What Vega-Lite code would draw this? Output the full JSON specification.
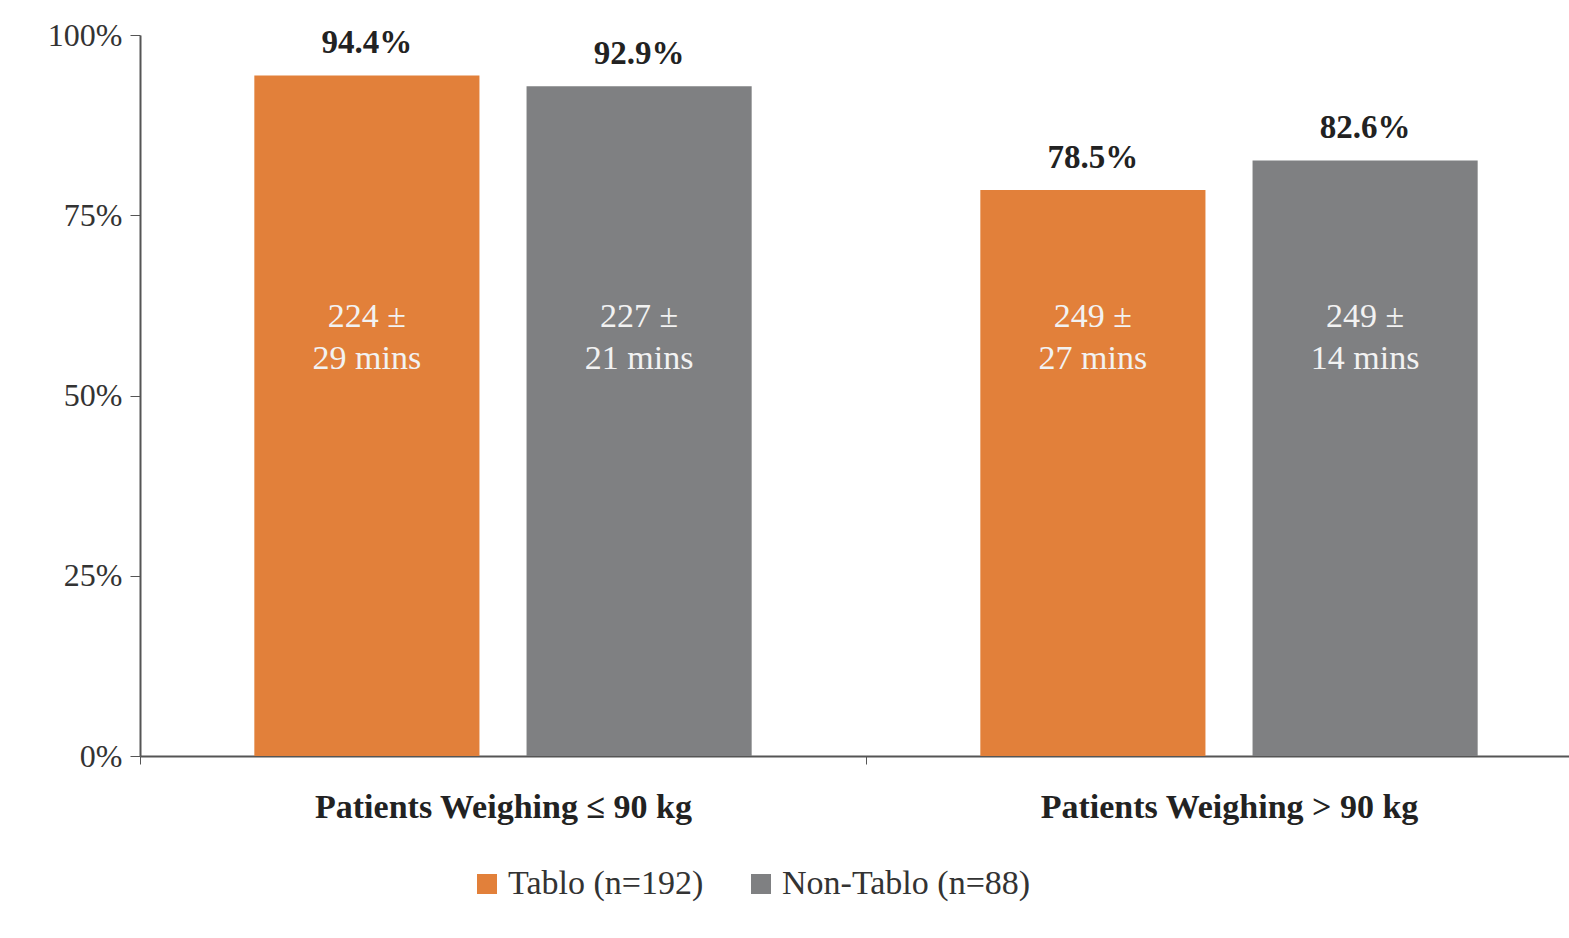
{
  "$schema": "https://vega.github.io/schema/vega-lite/v6.json",
  "width": 1452,
  "height": 721,
  "autosize": "none",
  "padding": {"left": 140, "top": 35, "right": 0, "bottom": 182},
  "background": "white",
  "config": {"view": {"stroke": null}, "font": "Liberation Serif"},
  "data": {
    "values": [
      {"group": "Patients Weighing ≤ 90 kg", "series": "Tablo (n=192)", "pct": 94.4, "label": "94.4%", "inner": "224 ±\n29 mins"},
      {"group": "Patients Weighing ≤ 90 kg", "series": "Non-Tablo (n=88)", "pct": 92.9, "label": "92.9%", "inner": "227 ±\n21 mins"},
      {"group": "Patients Weighing > 90 kg", "series": "Tablo (n=192)", "pct": 78.5, "label": "78.5%", "inner": "249 ±\n27 mins"},
      {"group": "Patients Weighing > 90 kg", "series": "Non-Tablo (n=88)", "pct": 82.6, "label": "82.6%", "inner": "249 ±\n14 mins"}
    ]
  },
  "encoding": {
    "x": {
      "field": "group", "type": "nominal", "sort": null, "title": null,
      "scale": {"paddingInner": 0, "paddingOuter": 0},
      "axis": {"labelAngle": 0, "labelFontSize": 34, "labelFontWeight": "bold", "labelColor": "#222", "labelPadding": 26, "labelLimit": 700, "domainColor": "#555", "domainWidth": 2, "tickColor": "#555", "tickBand": "extent", "tickSize": 8}
    },
    "xOffset": {"field": "series", "type": "nominal", "sort": ["Tablo (n=192)", "Non-Tablo (n=88)"], "scale": {"paddingInner": 0.173, "paddingOuter": 0.42}}
  },
  "layer": [
    {
      "mark": {"type": "bar"},
      "encoding": {
        "y": {
          "field": "pct", "type": "quantitative", "title": null,
          "scale": {"domain": [0, 100]},
          "axis": {"values": [0, 25, 50, 75, 100], "labelExpr": "datum.value + '%'", "grid": false, "labelFontSize": 32, "labelColor": "#333", "domainColor": "#555", "domainWidth": 2, "tickColor": "#555", "tickSize": 10, "labelPadding": 8}
        },
        "color": {
          "field": "series", "type": "nominal", "sort": ["Tablo (n=192)", "Non-Tablo (n=88)"], "title": null,
          "scale": {"range": ["#E2803A", "#7F8082"]},
          "legend": {"orient": "none", "legendX": 330, "legendY": 832, "direction": "horizontal", "symbolType": "square", "symbolSize": 400, "labelFontSize": 34, "labelColor": "#333", "columnPadding": 40, "labelLimit": 400}
        }
      }
    },
    {
      "mark": {"type": "text", "fontSize": 33, "fontWeight": "bold", "dy": -32, "color": "#222"},
      "encoding": {"y": {"field": "pct", "type": "quantitative"}, "text": {"field": "label"}}
    },
    {
      "mark": {"type": "text", "fontSize": 34, "color": "#F2F2F2", "lineBreak": "\n", "lineHeight": 42, "y": 282},
      "encoding": {"text": {"field": "inner"}}
    }
  ]
}
